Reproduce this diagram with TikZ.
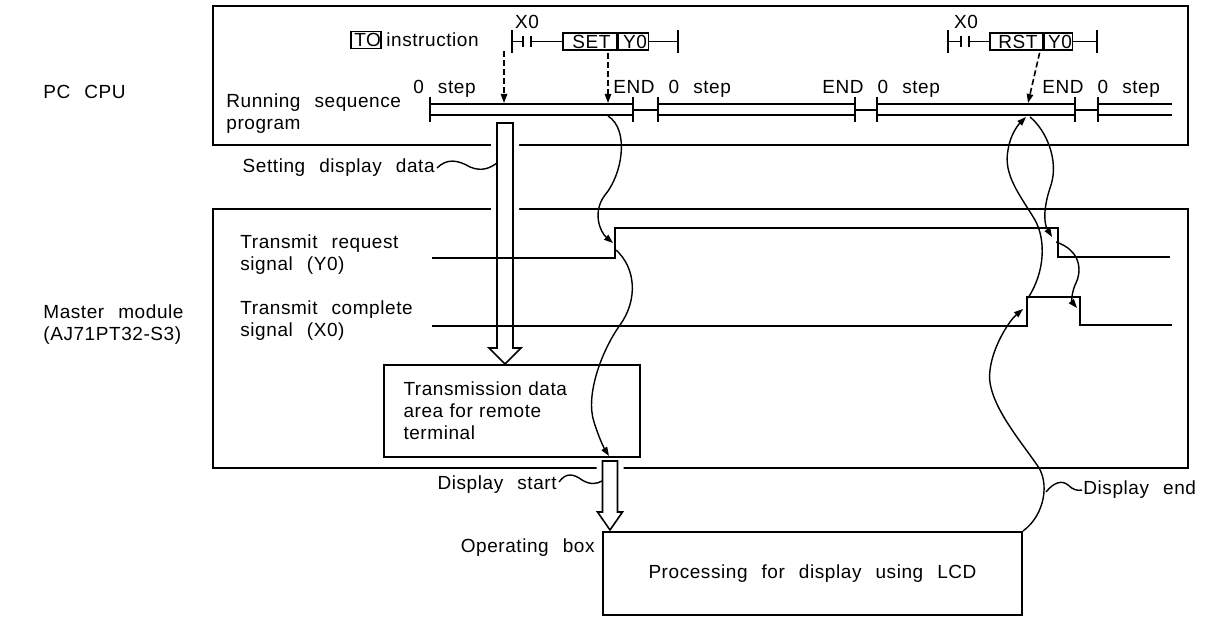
\documentclass[tikz,border=0pt]{standalone}
\usepackage{fontspec}
\setmainfont{Liberation Sans}[LetterSpace=3,WordSpace=2.4]
\usetikzlibrary{arrows.meta,positioning,calc}

\tikzset{
  frame/.style={line width=1pt},
  sig/.style={line width=1pt},
  lbl/.style={inner sep=0pt,align=left},
  cell/.style={draw,line width=0.8pt,inner sep=0pt,minimum height=8.5pt},
  wavy/.style={line width=0.7pt},
  tip/.style={-{Triangle[length=4.5pt,width=3.2pt]}},
  dash arrow/.style={line width=0.8pt,dash pattern=on 3pt off 1.5pt,-{Triangle[length=4.5pt,width=3.2pt]}},
}

% x, shaft top, head base, tip, shaft half width, head half width
\newcommand{\hollowarrow}[6]{
  \draw[white,line width=6pt] (#1-#5,#2) -- (#1+#5,#2) -- (#1+#5,#3) -- (#1+#6,#3) -- (#1,#4) -- (#1-#6,#3) -- (#1-#5,#3) -- cycle;
  \draw[line width=0.8pt,fill=white] (#1-#5,#2) -- (#1+#5,#2) -- (#1+#5,#3) -- (#1+#6,#3) -- (#1,#4) -- (#1-#6,#3) -- (#1-#5,#3) -- cycle;
}

\begin{document}
\begin{tikzpicture}[x=0.5pt,y=-0.5pt,font=\fontsize{9.5}{11}\selectfont]
\useasboundingbox (0,0) rectangle (1218,619);

\node[lbl,anchor=west] (cpu) at (43,92) {PC CPU};
\node[lbl,anchor=west] (master) at (43,325) {Master module\\(AJ71PT32-S3)};

\draw[frame] (213,6) rectangle (1188,145);
\draw[frame] (213,209) rectangle (1188,468);

\hollowarrow{505}{123}{348}{364}{8}{16}
\hollowarrow{610}{461}{512}{530}{7.5}{12.5}

% scan of the sequence program
\foreach \a/\b in {430/633,658/855,877/1075}
    {
        \draw[sig] (\a,104) -- (\b,104) (\a,115) -- (\b,115);
        \draw[line width=0.8pt] (\a,97) -- (\a,122) (\b,97) -- (\b,122);
    }
\draw[sig] (1098,104) -- (1172,104) (1098,115) -- (1172,115);
\draw[line width=0.8pt] (1098,97) -- (1098,122);
\foreach \a/\b in {633/658,855/877,1075/1098}
    \draw[line width=0.8pt] (\a,110) -- (\b,110);

\node[lbl,anchor=west] (run) at (226,114) {Running sequence\\program};
\node[lbl,anchor=west] (s0) at (413,89) {0 step};
\foreach \x/\n in {613/end1,822/end2,1042/end3}
    \node[lbl,anchor=west] (\n) at (\x,89) {END 0 step};

% ladder rungs
\node[draw,line width=0.8pt,inner sep=0pt,minimum width=15pt,minimum height=8.5pt] (to) at (366,40) {\,TO};
\node[lbl,anchor=west] (instr) at (386,40) {instruction};

\node[cell,minimum width=27pt,anchor=west] (set) at (562,41.5) {\,SET};
\node[cell,minimum width=15pt,right=0pt of set] (sety) {\,Y0};
\node (x0a) at (527,22) {X0};
\draw[line width=0.8pt] (512,30) -- (512,53) (678,30) -- (678,53);
\draw[line width=0.8pt] (512,41.5) -- (523,41.5) (523,36) -- (523,47) (531,36) -- (531,47)
    (531,41.5) -- (set.west) (sety.east) -- (678,41.5);

\node[cell,minimum width=26.5pt,anchor=west] (rst) at (989,41.5) {\,RST};
\node[cell,minimum width=14pt,right=0pt of rst] (rsty) {\,Y0};
\node (x0b) at (966,22) {X0};
\draw[line width=0.8pt] (948,30) -- (948,53) (1097,30) -- (1097,53);
\draw[line width=0.8pt] (948,41.5) -- (961,41.5) (961,36) -- (961,47) (969,36) -- (969,47)
    (969,41.5) -- (rst.west) (rsty.east) -- (1097,41.5);

\coordinate (d1) at (504,103);
\coordinate (d2) at (608,103);
\coordinate (d3) at (1028,103);
\draw[dash arrow] ($(d1 |- instr.south)+(0,4)$) -- (d1);
\draw[dash arrow] ($(d2 |- set.south)+(0,2)$) -- (d2);
\draw[dash arrow] ($(rst.south east)+(-4,2)$) -- (d3);

% signals
\node[lbl,anchor=west] (req) at (240,255) {Transmit request\\signal (Y0)};
\node[lbl,anchor=west] (cmp) at (240,321) {Transmit complete\\signal (X0)};
\draw[sig] (432,258) -- (615,258) -- (615,228) -- (1058,228) -- (1058,257) -- (1170,257);
\draw[sig] (432,326) -- (1027,326) -- (1027,297) -- (1080,297) -- (1080,325) -- (1172,325);

\node[draw,frame,text width=108pt,inner xsep=10pt,minimum height=46pt,align=left] (tdata) at (511.5,411)
    {Transmission data\\area for remote\\terminal};
\node[draw,frame,minimum width=209.5pt,minimum height=41.5pt] (lcd) at (812.5,573.5)
    {Processing for display using LCD};

\node[lbl,anchor=east] (setdata) at (435,168) {Setting display data};
\node[lbl,anchor=east] (dstart) at (557,485) {Display start};
\node[lbl,anchor=east] (opbox) at (595,548) {Operating box};
\node[lbl,anchor=west] (dend) at (1083,490) {Display end};

\coordinate (sh1) at (497,163);
\coordinate (sh2) at (602,481);
\draw[wavy] ($(setdata.east)+(2,0)$) .. controls (447,158) and (458,160) .. (470,167)
    .. controls (482,172) and (490,168) .. (sh1);
\draw[wavy] ($(dstart.east)+(2,-3)$) .. controls (566,472) and (574,474) .. (582,480)
    .. controls (590,485) and (597,484) .. (sh2);

% handshake
\coordinate (p1) at (608,116);
\coordinate (y0up) at (613,243);
\coordinate (y0dn) at (1052,237);
\coordinate (x0up) at (1028,298);
\coordinate (x0dn) at (1077,308);
\coordinate (p3) at (1026,117);
\coordinate (p3b) at (1030,117);
\coordinate (dtop) at (609,456);

\draw[wavy,tip] (p1) .. controls (630,130) and (622,175) .. (605,195)
    .. controls (592,212) and (600,232) .. (y0up);
\draw[wavy,tip] (616,250) .. controls (636,268) and (638,300) .. (620,325)
    .. controls (602,350) and (585,395) .. (594,422)
    .. controls (599,438) and (604,448) .. (dtop);
\draw[wavy,tip] (lcd.north east) .. controls (1045,515) and (1050,482) .. (1037,465)
    .. controls (1020,440) and (985,400) .. (990,370)
    .. controls (993,345) and (1010,320) .. (1023,309);
\draw[wavy,tip] (x0up) .. controls (1045,272) and (1046,240) .. (1035,220)
    .. controls (1020,195) and (1003,175) .. (1008,150)
    .. controls (1010,136) and (1017,126) .. (p3);
\draw[wavy,tip] (p3b) .. controls (1046,130) and (1059,160) .. (1051,185)
    .. controls (1044,205) and (1043,222) .. (y0dn);
\draw[wavy,tip] (1056,242) .. controls (1080,250) and (1083,270) .. (1075,285)
    .. controls (1071,295) and (1072,302) .. (x0dn);
\draw[wavy] (1046,492) .. controls (1054,482) and (1062,480) .. (1068,485)
    .. controls (1073,490) and (1078,491) .. ($(dend.west)+(-1,0)$);

\end{tikzpicture}
\end{document}
